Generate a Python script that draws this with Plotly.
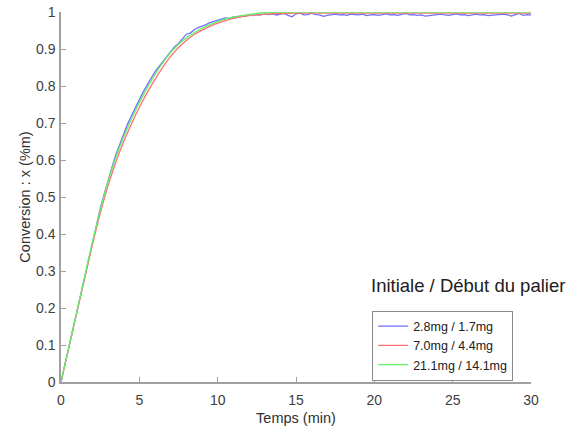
import plotly.graph_objects as go

# ---------------- data ----------------
t_smooth = [0, 0.5, 1.0, 1.5, 2.0, 2.5, 3.0, 3.5, 4.0, 4.5, 5.0, 5.5, 6.0, 6.5,
            7.0, 7.5, 8.0, 8.5, 9.0, 9.5, 10.0, 10.5, 11.0, 11.5, 12.0, 12.5,
            13.0, 13.5, 14.0, 15.0, 16.0, 18.0, 20.0, 22.0, 24.0, 26.0, 28.0, 30.0]

green_x = [0, 0.094, 0.188, 0.283, 0.377, 0.464, 0.542, 0.607, 0.662, 0.711,
           0.755, 0.795, 0.831, 0.863, 0.891, 0.913, 0.930, 0.944, 0.956, 0.966,
           0.974, 0.981, 0.986, 0.990, 0.993, 0.996, 0.998, 0.999, 1.0, 1.0,
           1.0, 1.0, 1.0, 1.0, 1.0, 1.0, 1.0, 1.0]

red_x = [0, 0.093, 0.186, 0.279, 0.370, 0.455, 0.530, 0.594, 0.649, 0.698,
         0.742, 0.782, 0.818, 0.851, 0.880, 0.904, 0.923, 0.939, 0.951, 0.961,
         0.970, 0.977, 0.983, 0.987, 0.990, 0.992, 0.994, 0.995, 0.996, 0.997,
         0.997, 0.997, 0.997, 0.997, 0.997, 0.997, 0.997, 0.997]

t_blue = [i * 0.25 for i in range(121)]
blue_x = [0, 0.047, 0.096, 0.143, 0.191, 0.238, 0.287, 0.333, 0.381, 0.424,
          0.468, 0.507, 0.546, 0.580, 0.614, 0.643, 0.671, 0.697, 0.720, 0.742,
          0.764, 0.784, 0.803, 0.821, 0.838, 0.852, 0.867, 0.879, 0.893, 0.906,
          0.915, 0.928, 0.940, 0.943, 0.952, 0.958, 0.961, 0.966, 0.971, 0.974,
          0.978, 0.981, 0.984, 0.982, 0.987, 0.986, 0.990, 0.988, 0.992, 0.990,
          0.993, 0.992, 0.995, 0.993, 0.995, 0.992, 0.994, 0.996, 0.991, 0.987,
          0.995, 0.997, 0.992, 0.993, 0.997, 0.993, 0.992, 0.988, 0.991, 0.993,
          0.994, 0.992, 0.993, 0.991, 0.994, 0.993, 0.992, 0.994, 0.990, 0.992,
          0.993, 0.991, 0.994, 0.995, 0.992, 0.993, 0.991, 0.993, 0.996, 0.992,
          0.993, 0.991, 0.992, 0.989, 0.990, 0.993, 0.992, 0.994, 0.992, 0.991,
          0.993, 0.995, 0.992, 0.993, 0.990, 0.992, 0.994, 0.992, 0.993, 0.990,
          0.991, 0.992, 0.993, 0.994, 0.992, 0.989, 0.993, 0.996, 0.991, 0.993,
          0.992]

series_names = ["2.8mg / 1.7mg", "7.0mg / 4.4mg", "21.1mg / 14.1mg"]
legend_heading = "Initiale / Début du palier"
x_ticks = [0, 5, 10, 15, 20, 25, 30]
y_ticks = [0, 0.1, 0.2, 0.3, 0.4, 0.5, 0.6, 0.7, 0.8, 0.9, 1]
y_tick_labels = ["0", "0.1", "0.2", "0.3", "0.4", "0.5", "0.6", "0.7", "0.8", "0.9", "1"]

# ---------------- figure ----------------
FONT = "Liberation Sans, Arial, Helvetica, sans-serif"
fig = go.Figure()
fig.add_trace(go.Scatter(x=t_blue, y=blue_x, mode="lines", name=series_names[0],
                         line=dict(color="#7070ff", width=1.3)))
fig.add_trace(go.Scatter(x=t_smooth, y=red_x, mode="lines", name=series_names[1],
                         line=dict(color="#ff7070", width=1.3, shape="spline"), line_smoothing=0.6))
fig.add_trace(go.Scatter(x=t_smooth, y=green_x, mode="lines", name=series_names[2],
                         line=dict(color="#66ee66", width=1.3, shape="spline"), line_smoothing=0.6))

axis_common = dict(showgrid=False, zeroline=False, showline=True, linecolor="#a0a0a0",
                   linewidth=1.5, ticks="inside", ticklen=5, tickcolor="#a0a0a0",
                   tickwidth=1, tickfont=dict(family=FONT, size=14, color="#404040"),
                   mirror=False, automargin=False)

fig.update_xaxes(range=[0, 30], tickvals=x_ticks,
                 title=dict(text="Temps (min)", font=dict(family=FONT, size=14.5, color="#303030"),
                            standoff=6),
                 ticklabelstandoff=4, **axis_common)
fig.update_yaxes(range=[0, 1], tickvals=y_ticks, ticktext=y_tick_labels,
                 title=dict(text="Conversion : x (%m)", font=dict(family=FONT, size=14.5, color="#303030"),
                            standoff=2),
                 ticklabelstandoff=1, **axis_common)

fig.add_annotation(xref="paper", yref="paper", x=0.656, y=0.262, xanchor="left", yanchor="middle",
                   text=legend_heading, showarrow=False,
                   font=dict(family=FONT, size=18.5, color="#202020"))

fig.update_layout(
    width=570, height=432, autosize=False,
    margin=dict(l=61, r=39, t=12, b=50),
    paper_bgcolor="white", plot_bgcolor="white",
    font=dict(family=FONT, color="#303030"),
    legend=dict(x=0.662, y=0.193, xanchor="left", yanchor="top",
                bordercolor="#8a8a8a", borderwidth=1, bgcolor="white",
                font=dict(family=FONT, size=12.5, color="#202020"),
                tracegroupgap=0, itemwidth=30),
)

fig.write_html("out.html", config={"displayModeBar": False},
               post_script="document.body.style.margin='0';")
